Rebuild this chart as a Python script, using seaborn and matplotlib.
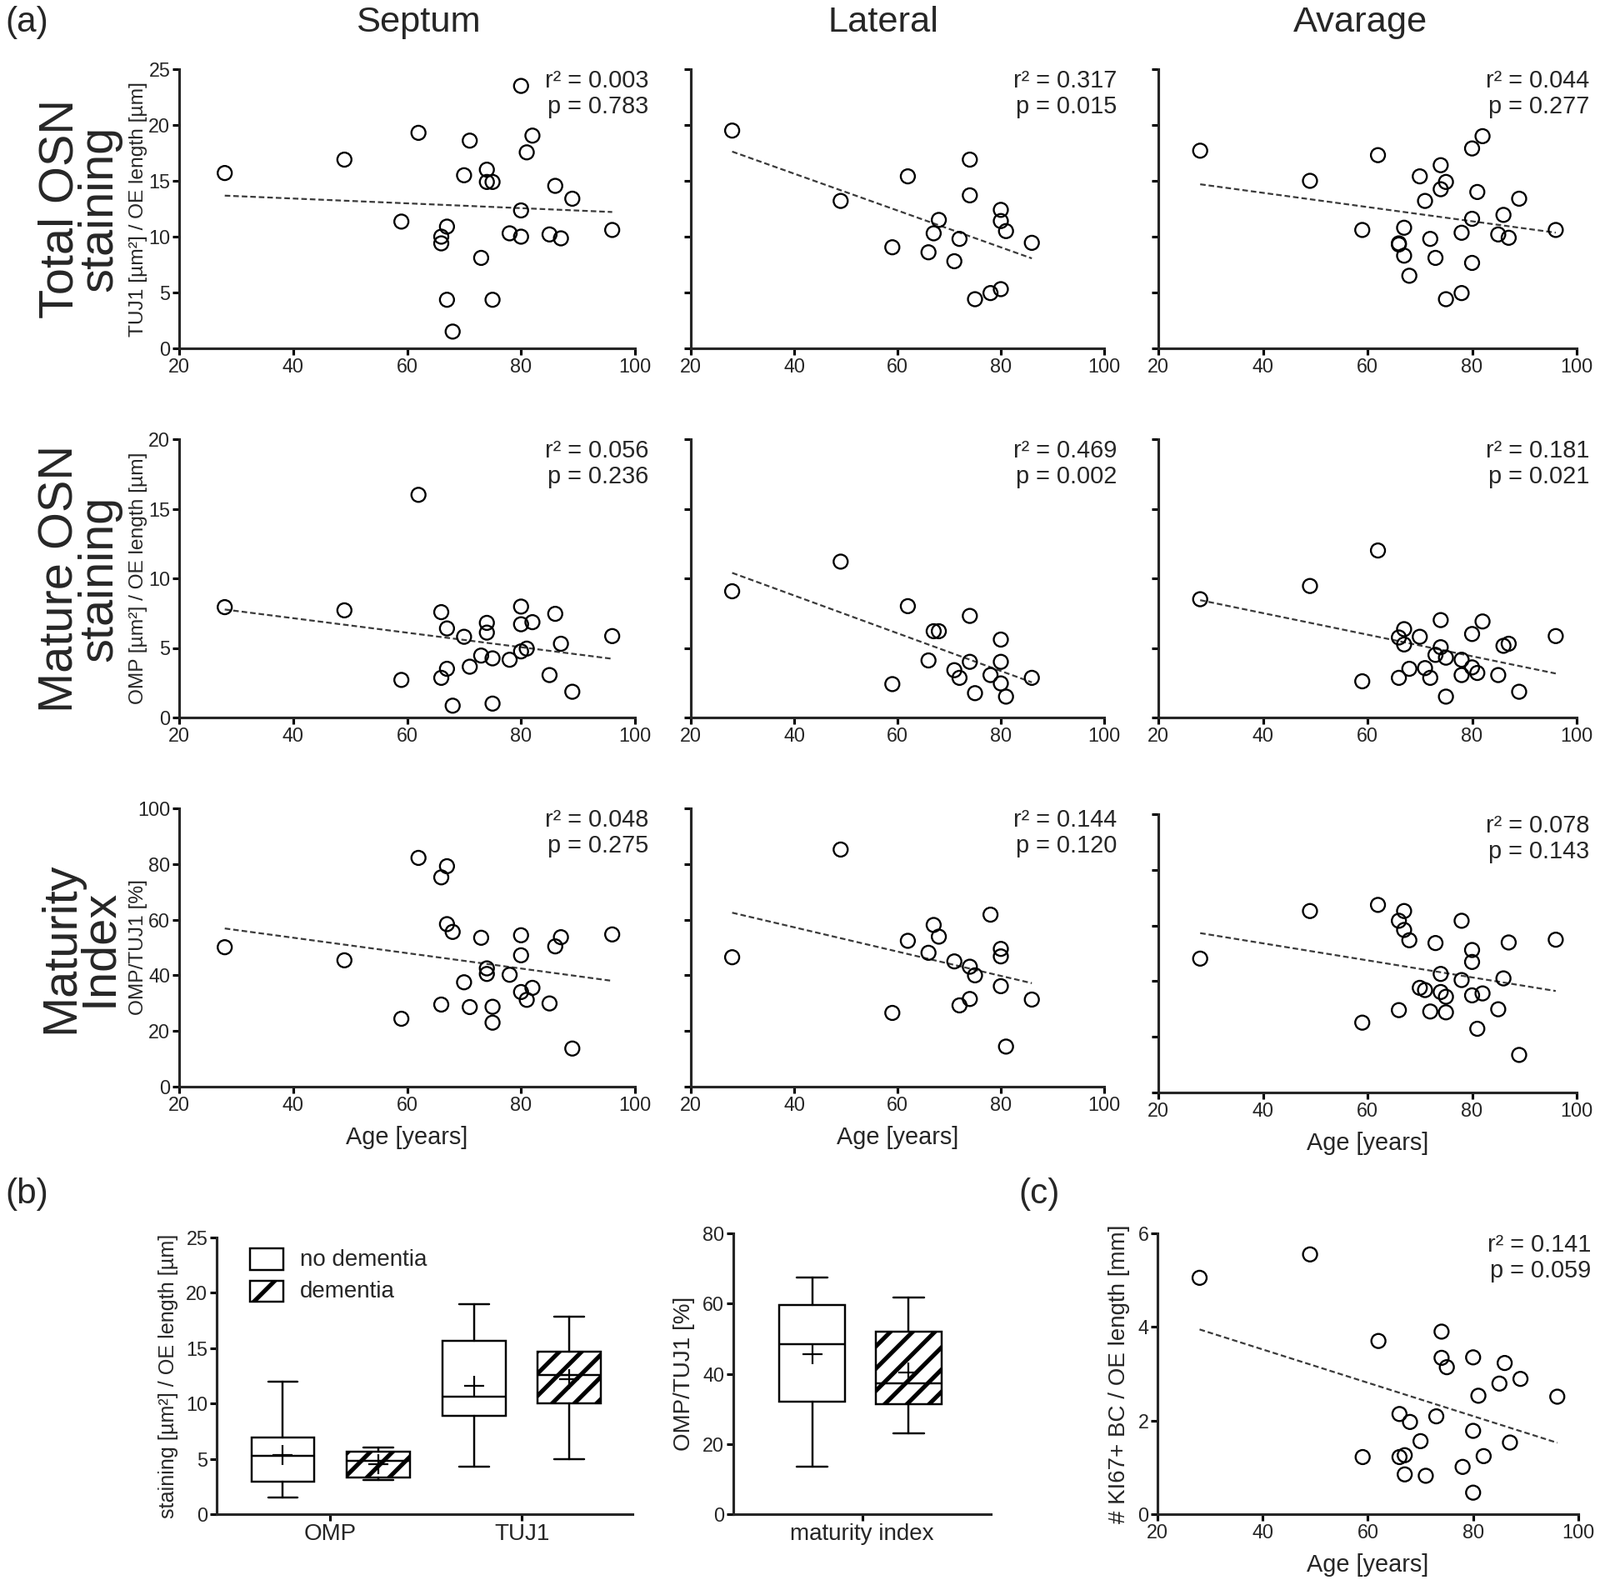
import numpy as np
import pandas as pd
import seaborn as sns
import matplotlib.pyplot as plt
from matplotlib import font_manager
from matplotlib.patches import Patch

# ---------------- data ----------------
# Total OSN staining (TUJ1)
tot_sep_age = [28, 49, 62, 59, 66, 66, 67, 67, 68, 71, 70, 73, 74, 74, 75, 75, 78, 80, 80, 80, 81, 82, 85, 86, 87, 89, 96]
tot_sep_val = [15.7, 16.9, 19.3, 11.35, 10.0, 9.4, 10.9, 4.35, 1.5, 18.6, 15.5, 8.1, 16.0, 14.9, 14.9, 4.35, 10.3, 23.5, 12.35, 10.0, 17.55, 19.05, 10.2, 14.55, 9.85, 13.4, 10.6]
tot_lat_age = [28, 49, 59, 62, 66, 67, 68, 71, 72, 74, 74, 75, 78, 80, 80, 80, 81, 86]
tot_lat_val = [19.5, 13.2, 9.05, 15.4, 8.6, 10.3, 11.5, 7.8, 9.8, 16.9, 13.7, 4.4, 4.95, 5.3, 12.4, 11.4, 10.5, 9.45]
tot_avg_age = [28, 49, 59, 62, 66, 66, 67, 67, 68, 70, 71, 72, 73, 74, 74, 75, 75, 78, 78, 80, 80, 80, 81, 82, 85, 86, 87, 89, 96]
tot_avg_val = [17.7, 15.0, 10.6, 17.3, 9.4, 9.3, 10.8, 8.3, 6.5, 15.4, 13.2, 9.8, 8.1, 16.4, 14.25, 14.9, 4.4, 10.35, 4.95, 17.9, 11.6, 7.65, 14.0, 19.0, 10.2, 11.95, 9.9, 13.4, 10.6]

# Mature OSN staining (OMP)
mat_sep_age = [28, 49, 59, 62, 66, 66, 67, 67, 68, 70, 71, 73, 74, 74, 75, 75, 78, 80, 80, 80, 81, 82, 85, 86, 87, 89, 96]
mat_sep_val = [7.93, 7.7, 2.7, 16.0, 7.57, 2.85, 6.4, 3.5, 0.85, 5.8, 3.65, 4.45, 6.8, 6.1, 4.25, 1.0, 4.15, 7.97, 6.7, 4.75, 4.95, 6.85, 3.05, 7.45, 5.3, 1.85, 5.85]
mat_lat_age = [28, 49, 59, 62, 66, 67, 68, 71, 72, 74, 74, 75, 78, 80, 80, 80, 81, 86]
mat_lat_val = [9.07, 11.2, 2.4, 8.0, 4.1, 6.2, 6.2, 3.4, 2.85, 7.3, 4.0, 1.75, 3.05, 5.6, 4.0, 2.45, 1.5, 2.85]
mat_avg_age = [28, 49, 59, 62, 66, 66, 67, 67, 68, 70, 71, 72, 73, 74, 74, 75, 75, 78, 78, 80, 80, 81, 82, 85, 86, 87, 89, 96]
mat_avg_val = [8.5, 9.45, 2.6, 12.0, 2.85, 5.75, 6.35, 5.25, 3.5, 5.8, 3.55, 2.85, 4.5, 7.0, 5.05, 4.3, 1.5, 4.15, 3.05, 6.0, 3.6, 3.2, 6.9, 3.05, 5.15, 5.3, 1.85, 5.85]

# Maturity index (OMP/TUJ1)
mi_sep_age = [28, 49, 59, 62, 66, 66, 67, 67, 68, 70, 71, 73, 74, 74, 75, 75, 78, 80, 80, 80, 81, 82, 85, 86, 87, 89, 96]
mi_sep_val = [50.1, 45.4, 24.4, 82.2, 75.2, 29.5, 79.2, 58.4, 55.6, 37.5, 28.6, 53.5, 42.5, 40.5, 28.7, 23.0, 40.2, 54.4, 47.2, 34.0, 31.2, 35.5, 29.9, 50.4, 53.7, 13.7, 54.7]
mi_lat_age = [28, 49, 59, 62, 66, 67, 68, 71, 72, 74, 74, 75, 78, 80, 80, 80, 81, 86]
mi_lat_val = [46.5, 85.2, 26.5, 52.4, 48.1, 58.1, 53.9, 45.0, 29.2, 43.1, 31.5, 40.0, 61.8, 49.5, 46.8, 36.1, 14.4, 31.3]
mi_avg_age = [28, 49, 59, 62, 66, 66, 67, 67, 68, 70, 71, 72, 73, 74, 74, 75, 75, 78, 78, 80, 80, 80, 81, 82, 85, 86, 87, 89, 96]
mi_avg_val = [48.1, 65.2, 25.1, 67.4, 61.7, 29.6, 65.2, 58.4, 54.7, 37.6, 36.8, 29.1, 53.7, 42.6, 36.1, 34.4, 28.8, 61.7, 40.4, 51.2, 46.9, 34.9, 22.9, 35.6, 29.9, 41.0, 53.9, 13.5, 54.9]

# KI67+ basal cells
ki_age = [28, 49, 59, 62, 66, 66, 67, 67, 68, 70, 71, 73, 74, 74, 75, 78, 80, 80, 80, 81, 82, 85, 86, 87, 89, 96]
ki_val = [5.05, 5.55, 1.22, 3.7, 1.22, 2.14, 1.26, 0.85, 1.97, 1.56, 0.82, 2.09, 3.9, 3.34, 3.14, 1.01, 3.35, 1.78, 0.46, 2.53, 1.24, 2.79, 3.23, 1.53, 2.89, 2.51]

# stats text
r2_text = [["0.003", "0.317", "0.044"], ["0.056", "0.469", "0.181"], ["0.048", "0.144", "0.078"]]
p_text = [["0.783", "0.015", "0.277"], ["0.236", "0.002", "0.021"], ["0.275", "0.120", "0.143"]]

# box plots: [whisker low, Q1, median, Q3, whisker high], mean
box_groups = ["no dementia", "dementia"]
omp_nodem = [1.5, 2.9, 5.3, 6.9, 12.0]
omp_dem = [3.05, 3.35, 4.8, 5.65, 6.0]
tuj_nodem = [4.3, 8.85, 10.6, 15.65, 19.0]
tuj_dem = [4.95, 10.0, 12.55, 14.65, 17.85]
mi_nodem = [13.6, 32.1, 48.4, 59.7, 67.5]
mi_dem = [23.0, 31.3, 37.2, 52.0, 61.8]
box_means = {"omp_nodem": 5.35, "omp_dem": 4.55, "tuj_nodem": 11.6, "tuj_dem": 12.2,
             "mi_nodem": 45.5, "mi_dem": 40.4}

col_titles = ["Septum", "Lateral", "Avarage"]
row_titles = ["Total OSN\nstaining", "Mature OSN\nstaining", "Maturity\nIndex"]
row_ylabels = ["TUJ1 [µm²] / OE length [µm]", "OMP [µm²] / OE length [µm]", "OMP/TUJ1 [%]"]
row_ymax = [25, 20, 100]
row_yticks = [[0, 5, 10, 15, 20, 25], [0, 5, 10, 15, 20], [0, 20, 40, 60, 80, 100]]
age_ticks = [20, 40, 60, 80, 100]

# ---------------- style ----------------
sns.set_style("ticks")
names = {f.name for f in font_manager.fontManager.ttflist}
narrow = "Liberation Sans Narrow" if "Liberation Sans Narrow" in names else "Liberation Sans"
plt.rcParams["font.family"] = ["Liberation Sans", "DejaVu Sans"]
plt.rcParams["hatch.linewidth"] = 2.3
plt.rcParams["axes.linewidth"] = 1.4

W, H = 1920, 1908
DPI = 160
fig = plt.figure(figsize=(W / DPI, H / DPI), dpi=DPI)


def add_ax(x0, y0, x1, y1):
    return fig.add_axes([x0 / W, 1 - y1 / H, (x1 - x0) / W, (y1 - y0) / H])


def style(ax):
    sns.despine(ax=ax)
    ax.spines["left"].set_linewidth(1.4)
    ax.spines["bottom"].set_linewidth(1.4)
    ax.tick_params(width=1.4, length=3.8, labelsize=10.5, pad=1, color="black")
    for lab in ax.get_xticklabels() + ax.get_yticklabels():
        lab.set_fontfamily(narrow)


def scatter_panel(ax, x, y, ymax, yticks, label_y):
    sns.regplot(x=x, y=y, ax=ax, ci=None, truncate=True,
                scatter_kws=dict(s=58, facecolors="none", edgecolors="black",
                                 linewidths=1.05, alpha=1, zorder=3),
                line_kws=dict(color="#3a3a3a", lw=1.0, ls=(0, (3, 1.6))))
    ax.set_xlim(20, 100)
    ax.set_ylim(0, ymax)
    ax.set_xticks(age_ticks)
    ax.set_yticks(yticks)
    if not label_y:
        ax.tick_params(labelleft=False)
    ax.set_xlabel("")
    ax.set_ylabel("")
    style(ax)


def stat_text(ax, r2, p):
    ax.text(1.03, 1.0, "r² = " + r2 + "\np = " + p, transform=ax.transAxes,
            ha="right", va="top", fontsize=13, family=narrow, linespacing=1.15)


cols_x = [(215, 762), (829, 1325), (1390, 1892)]
rows_y = [(83, 418), (527, 861), (970, 1304)]
panel_data = [[(tot_sep_age, tot_sep_val), (tot_lat_age, tot_lat_val), (tot_avg_age, tot_avg_val)],
              [(mat_sep_age, mat_sep_val), (mat_lat_age, mat_lat_val), (mat_avg_age, mat_avg_val)],
              [(mi_sep_age, mi_sep_val), (mi_lat_age, mi_lat_val), (mi_avg_age, mi_avg_val)]]

for r in range(3):
    for c in range(3):
        x0, x1 = cols_x[c]
        y0, y1 = rows_y[r]
        if r == 2 and c == 2:
            y0, y1 = y0 + 7, y1 + 7
        ax = add_ax(x0, y0, x1, y1)
        age, val = panel_data[r][c]
        scatter_panel(ax, age, val, row_ymax[r], row_yticks[r], c == 0)
        stat_text(ax, r2_text[r][c], p_text[r][c])
        if r == 2:
            ax.set_xlabel("Age [years]", fontsize=13, family=narrow, labelpad=6)
        if c == 0:
            yc = 1 - (y0 + y1) / 2 / H
            fig.text(96 / W, yc, row_titles[r], rotation=90, ha="center", va="center",
                     fontsize=26, linespacing=0.82, multialignment="center")
            ax.set_ylabel(row_ylabels[r], fontsize=11, va="center")
            # same x for every row, left of the two-digit tick labels
            ax.yaxis.set_label_coords((166 - x0) / (x1 - x0), 0.5)

for c in range(3):
    xc = [502, 1060, 1632][c]
    fig.text(xc / W, 1 - 27 / H, col_titles[c], ha="center", va="center", fontsize=19.5)

fig.text(6 / W, 1 - 27 / H, "(a)", ha="left", va="center", fontsize=19)
fig.text(6 / W, 1 - 1433 / H, "(b)", ha="left", va="center", fontsize=19)
fig.text(1222 / W, 1 - 1433 / H, "(c)", ha="left", va="center", fontsize=19)


# ---------------- (b) box plots ----------------
def make_stats(five, mean, label):
    return dict(whislo=five[0], q1=five[1], med=five[2], q3=five[3], whishi=five[4],
                mean=mean, fliers=[], label=label)


def draw_boxes(ax, stats, positions, width):
    bp = ax.bxp(stats, positions=positions, widths=width, capwidths=width * 0.47,
                patch_artist=True, showmeans=True, showfliers=False,
                boxprops=dict(facecolor="white", edgecolor="black", linewidth=1.1),
                medianprops=dict(color="black", linewidth=1.1),
                whiskerprops=dict(color="black", linewidth=1.1),
                capprops=dict(color="black", linewidth=1.1),
                meanprops=dict(marker="+", markersize=11, markeredgewidth=1.0,
                               markeredgecolor="black"))
    for i, patch in enumerate(bp["boxes"]):
        if i % 2 == 1:
            patch.set_hatch("//")
    return bp


axb = add_ax(260, 1485, 759, 1817)
stats_b = [make_stats(omp_nodem, box_means["omp_nodem"], box_groups[0]),
           make_stats(omp_dem, box_means["omp_dem"], box_groups[1]),
           make_stats(tuj_nodem, box_means["tuj_nodem"], box_groups[0]),
           make_stats(tuj_dem, box_means["tuj_dem"], box_groups[1])]
draw_boxes(axb, stats_b, [0.159, 0.389, 0.619, 0.848], 0.151)
axb.set_xlim(0, 1)
axb.set_ylim(0, 25)
axb.set_yticks([0, 5, 10, 15, 20, 25])
axb.set_xticks([0.272, 0.734])
axb.set_xticklabels(["OMP", "TUJ1"])
axb.set_ylabel("staining [µm²] / OE length [µm]", fontsize=11.3, labelpad=4)
style(axb)
handles = [Patch(facecolor="white", edgecolor="black", linewidth=1.1, label="no dementia"),
           Patch(facecolor="white", edgecolor="black", linewidth=1.1, hatch="/", label="dementia")]
leg = axb.legend(handles=handles, loc="upper left", bbox_to_anchor=(0.04, 1.02), frameon=False,
                 handlelength=1.8, handleheight=1.4, handletextpad=0.9, labelspacing=0.55)
for t in leg.get_texts():
    t.set_fontsize(12.5)
    t.set_fontfamily(narrow)

axm = add_ax(880, 1480, 1189, 1817)
stats_m = [make_stats(mi_nodem, box_means["mi_nodem"], box_groups[0]),
           make_stats(mi_dem, box_means["mi_dem"], box_groups[1])]
draw_boxes(axm, stats_m, [0.306, 0.68], 0.255)
axm.set_xlim(0, 1)
axm.set_ylim(0, 80)
axm.set_yticks([0, 20, 40, 60, 80])
axm.set_xticks([0.5])
axm.set_xticklabels(["maturity index"])
axm.set_ylabel("OMP/TUJ1 [%]", fontsize=12.5, labelpad=4)
style(axm)
for lab in axm.get_xticklabels():
    lab.set_fontsize(12.5)
for lab in axb.get_xticklabels():
    lab.set_fontsize(12.5)

# ---------------- (c) KI67 ----------------
axc = add_ax(1389, 1480, 1894, 1817)
scatter_panel(axc, ki_age, ki_val, 6, [0, 2, 4, 6], True)
stat_text(axc, "0.141", "0.059")
axc.set_xlabel("Age [years]", fontsize=13, family=narrow, labelpad=6)
axc.set_ylabel("# KI67+ BC / OE length [mm]", fontsize=12.5, labelpad=4)

fig.savefig("out.png", dpi=DPI, facecolor="white")
